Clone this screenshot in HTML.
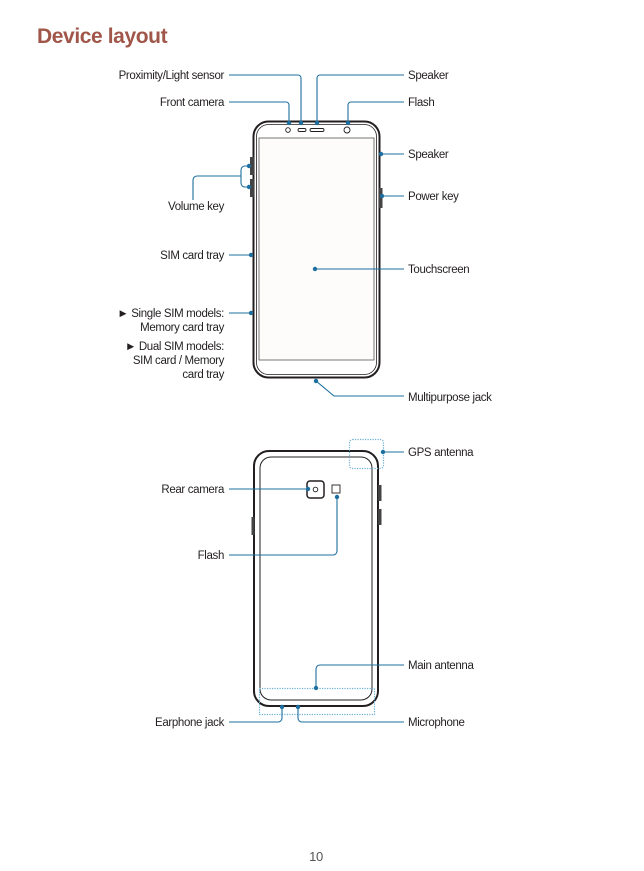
<!DOCTYPE html>
<html><head><meta charset="utf-8"><style>
html,body{margin:0;padding:0;background:#fff;}
svg{display:block;}
text{font-family:"Liberation Sans",sans-serif;font-size:11.5px;fill:#231f20;letter-spacing:-0.35px;}
.l{text-anchor:end;}
.ln{fill:none;stroke:#1d6fa0;stroke-width:1.1;}
.d{fill:#1d6fa0;}
.ph{fill:none;stroke:#231f20;}
.dot{fill:none;stroke:#6aaed6;stroke-width:1.2;stroke-dasharray:1.2 1.3;}
</style></head><body>
<svg width="644" height="871" viewBox="0 0 644 871">
<rect width="644" height="871" fill="#fff"/>
<text x="37" y="43" style="font-size:21px;font-weight:bold;fill:#a0574a;letter-spacing:-0.4px">Device layout</text>

<!-- FRONT PHONE -->
<rect x="253.5" y="121.5" width="126" height="256" rx="15" class="ph" stroke-width="2"/>
<rect x="256.5" y="124.5" width="120" height="250" rx="12" class="ph" stroke-width="0.8" stroke="#777"/>
<rect x="259" y="138" width="115" height="222" fill="#fdfcfb" stroke="#555" stroke-width="0.8"/>
<circle cx="288" cy="130" r="2.3" class="ph" stroke-width="0.9"/>
<rect x="298" y="128.5" width="8" height="3" rx="1.5" class="ph" stroke-width="0.9"/>
<rect x="310" y="128.5" width="14" height="3" rx="1.5" class="ph" stroke-width="0.9"/>
<circle cx="347" cy="130" r="3" class="ph" stroke-width="0.9"/>
<rect x="250" y="157" width="4" height="18" fill="#444"/>
<rect x="250" y="179" width="4" height="18" fill="#444"/>
<rect x="379" y="188" width="3.5" height="20" fill="#444"/>

<path class="ln" d="M229 75H298a3 3 0 0 1 3 3V123"/><circle class="d" cx="301" cy="123" r="2.2"/>
<path class="ln" d="M229 102H286a3 3 0 0 1 3 3V123"/><circle class="d" cx="289" cy="123" r="2.2"/>
<path class="ln" d="M404 75H320a3 3 0 0 0 -3 3V123"/><circle class="d" cx="317" cy="123" r="2.2"/>
<path class="ln" d="M404 102H351a3 3 0 0 0 -3 3V123"/><circle class="d" cx="348" cy="123" r="2.2"/>
<path class="ln" d="M382 154H404"/><circle class="d" cx="381" cy="154" r="2.2"/>
<path class="ln" d="M382 196H404"/><circle class="d" cx="382" cy="196" r="2.2"/>
<path class="ln" d="M249 166H245a4 4 0 0 0 -4 4V183a4 4 0 0 0 4 4H249M241 176H197a4 4 0 0 0 -4 4V200"/>
<circle class="d" cx="249" cy="166" r="2.2"/><circle class="d" cx="249" cy="187" r="2.2"/>
<path class="ln" d="M229 255H251"/><circle class="d" cx="251" cy="255" r="2.2"/>
<path class="ln" d="M229 313H251"/><circle class="d" cx="251" cy="313" r="2.2"/>
<path class="ln" d="M316 269H404"/><circle class="d" cx="315" cy="269" r="2.2"/>
<path class="ln" d="M316 381L334 396H404"/><circle class="d" cx="316" cy="381" r="2.2"/>

<text class="l" x="224" y="79">Proximity/Light sensor</text>
<text class="l" x="224" y="106">Front camera</text>
<text class="l" x="224" y="210">Volume key</text>
<text class="l" x="224" y="259">SIM card tray</text>
<text class="l" x="224" y="317">► Single SIM models:</text>
<text class="l" x="224" y="331">Memory card tray</text>
<text class="l" x="224" y="350">► Dual SIM models:</text>
<text class="l" x="224" y="364">SIM card / Memory</text>
<text class="l" x="224" y="378">card tray</text>
<text x="408" y="79">Speaker</text>
<text x="408" y="106">Flash</text>
<text x="408" y="158">Speaker</text>
<text x="408" y="200">Power key</text>
<text x="408" y="273">Touchscreen</text>
<text x="408" y="401">Multipurpose jack</text>

<!-- REAR PHONE -->
<rect x="254" y="451" width="124" height="255" rx="15" class="ph" stroke-width="2"/>
<rect x="260" y="457" width="112" height="243" rx="11" class="ph" stroke-width="1"/>
<rect x="378" y="485" width="3.5" height="16" fill="#444"/>
<rect x="378" y="509" width="3.5" height="16" fill="#444"/>
<rect x="251.5" y="517" width="3" height="18" fill="#444"/>
<rect x="307" y="481" width="17" height="17" rx="3" class="ph" stroke-width="1.5"/>
<circle cx="315.5" cy="489.5" r="2.3" class="ph" stroke-width="0.9"/>
<rect x="332" y="485" width="8" height="8" class="ph" stroke-width="0.9"/>
<rect x="349.5" y="439.5" width="34" height="29" rx="3" class="dot"/>
<path class="dot" d="M259.5 688.5H374.5V714.5H259.5Z"/>

<path class="ln" d="M229 489H308"/><circle class="d" cx="308" cy="489" r="2.2"/>
<path class="ln" d="M337 497V551a4 4 0 0 1 -4 4H229"/><circle class="d" cx="337" cy="497" r="2.2"/>
<path class="ln" d="M384 452H404"/><circle class="d" cx="383" cy="452" r="2.2"/>
<path class="ln" d="M316 688V669a4 4 0 0 1 4 -4H404"/><circle class="d" cx="316" cy="688" r="2.2"/>
<path class="ln" d="M282 707V718a4 4 0 0 1 -4 4H229"/><circle class="d" cx="282" cy="707" r="2.2"/>
<path class="ln" d="M298 707V718a4 4 0 0 0 4 4H404"/><circle class="d" cx="298" cy="707" r="2.2"/>

<text x="408" y="456">GPS antenna</text>
<text class="l" x="224" y="493">Rear camera</text>
<text class="l" x="224" y="559">Flash</text>
<text x="408" y="669">Main antenna</text>
<text class="l" x="224" y="726">Earphone jack</text>
<text x="408" y="726">Microphone</text>

<text x="316" y="861" style="text-anchor:middle;font-size:13px;fill:#555">10</text>
</svg>
</body></html>
